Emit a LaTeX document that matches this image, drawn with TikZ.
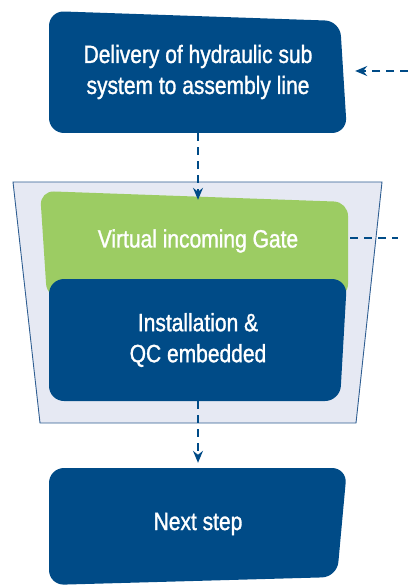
\documentclass[tikz,border=0pt]{standalone}
\usepackage{fontspec}
\setmainfont{Liberation Sans}[FakeStretch=0.84, FakeBold=1.2]
\usetikzlibrary{positioning, arrows.meta, backgrounds}
\definecolor{hydBlue}{HTML}{004B87}
\definecolor{gateGreen}{HTML}{9CCC63}
\definecolor{frameFill}{HTML}{E6E9F3}
\definecolor{frameLine}{HTML}{2F5E92}

\begin{document}
\begin{tikzpicture}[x=1pt, y=-1pt, font=\fontsize{25}{31}\selectfont,
    boxtext/.style={text=white, align=center, minimum width=298pt},
    flowline/.style={hydBlue, line width=1.4pt, dash pattern=on 8pt off 6pt,
      -{Stealth[length=12pt, width=10pt, inset=4pt]}},
    sideline/.style={hydBlue, line width=1.4pt, dash pattern=on 8pt off 6pt}]
  \useasboundingbox (0,0) rectangle (408,585);

  % text nodes, sized like the boxes behind them
  \node[boxtext, minimum height=122pt] (deliver) at (198,72)
    {Delivery of hydraulic sub\\system to assembly line};
  \node[boxtext, minimum height=90pt] (gate) at (198,241) {Virtual incoming Gate};
  \node[boxtext, minimum height=122pt] (install) at (198,340)
    {Installation \&\\QC embedded};
  \node[boxtext, minimum height=112pt] (next) at (198,524) {Next step};

  \begin{scope}[on background layer]
    % frame round gate + installation
    \draw[frameLine, fill=frameFill, line width=0.9pt]
      (13,182) -- (382,182) -- (356,423) -- (40,423) -- cycle;
    \fill[gateGreen, rounded corners=14pt]
      (40,191) -- (348,202) -- (348,298) -- (47,298) -- cycle;
    \fill[hydBlue, rounded corners=15pt]
      (49,279) -- (347,279) -- (340,401) -- (49,401) -- cycle;
    \fill[hydBlue, rounded corners=15pt]
      (49,11) -- (340,21) -- (347,133) -- (49,133) -- cycle;
    \fill[hydBlue, rounded corners=15pt]
      (49,468) -- (347,468) -- (337,577) -- (49,585) -- cycle;
  \end{scope}

  \coordinate (feedIn) at (408,71);
  \coordinate (gateOut) at (398,238);

  \draw[flowline] (deliver.south) -- ([yshift=-4pt]gate.north);
  \draw[flowline, shorten >=5pt] (install.south) -- (next.north);
  \draw[flowline, shorten >=8pt] (feedIn) -- (feedIn -| deliver.east);
  \draw[sideline, shorten <=3pt] (gateOut -| gate.east) -- (gateOut);
\end{tikzpicture}
\end{document}
